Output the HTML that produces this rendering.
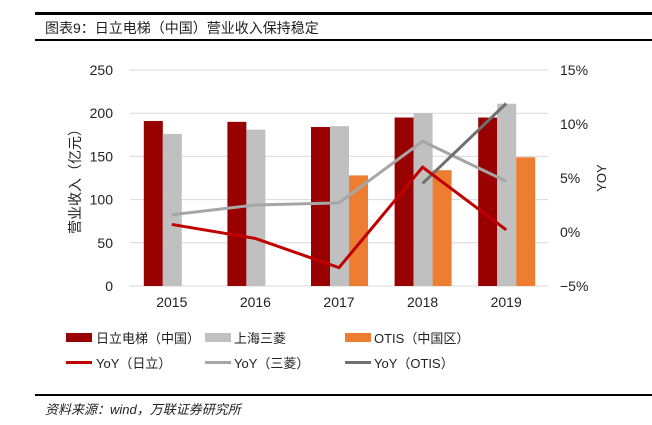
<!DOCTYPE html>
<html><head><meta charset="utf-8"><style>
body{margin:0;background:#fff;font-family:"Liberation Sans","Noto Sans CJK SC",sans-serif;}
svg text{font-family:"Liberation Sans","Noto Sans CJK SC",sans-serif;}
</style></head><body>
<svg width="652" height="420">
<rect x="35" y="12" width="617" height="3" fill="#000"/>
<text x="45" y="33" font-size="14" fill="#222">图表9：日立电梯（中国）营业收入保持稳定</text>
<rect x="35" y="39" width="617" height="2" fill="#000"/>
<g id="grid"></g><g id="bars"></g><g id="lines"></g><g id="axes"></g>
<text transform="translate(80,178) rotate(-90)" text-anchor="middle" font-size="14" fill="#222">营业收入（亿元）</text>
<text transform="translate(606,178) rotate(-90)" text-anchor="middle" font-size="13" fill="#222">YOY</text>
<g font-size="13" fill="#222">
<rect x="66" y="333" width="26" height="9" fill="#990000"/>
<text x="96" y="343">日立电梯（中国）</text>
<rect x="205" y="333" width="26" height="9" fill="#c0c0c0"/>
<text x="234" y="343">上海三菱</text>
<rect x="345" y="333" width="26" height="9" fill="#ed7d31"/>
<text x="374" y="343">OTIS（中国区）</text>
<rect x="66" y="361" width="26" height="3" fill="#c00000"/>
<text x="96" y="368">YoY（日立）</text>
<rect x="205" y="361" width="26" height="3" fill="#a6a6a6"/>
<text x="234" y="368">YoY（三菱）</text>
<rect x="345" y="361" width="26" height="3" fill="#707070"/>
<text x="374" y="368">YoY（OTIS）</text>
</g>
<rect x="35" y="394" width="617" height="2" fill="#000"/>
<text x="45" y="414" font-size="13" font-style="italic" fill="#222">资料来源：wind，万联证券研究所</text>
</svg>
<script>
const categories=["2015","2016","2017","2018","2019"];
const hitachi=[191,190,184,195,195];
const mitsubishi=[176,181,185,200,211];
const otis=[null,null,128,134,149];
const yoyHitachi=[0.7,-0.6,-3.3,6.0,0.2];
const yoyMitsubishi=[1.6,2.5,2.7,8.4,4.7];
const yoyOtis=[null,null,null,4.5,11.9];
const leftTicks=[0,50,100,150,200,250];
const rightTicks=[-5,0,5,10,15];
const NS="http://www.w3.org/2000/svg";
const x0=130,x1=548,yTop=70,yBot=286;
const step=(x1-x0)/categories.length;
const cx=i=>x0+step*(i+0.5);
const yL=v=>yBot-(v/250)*(yBot-yTop);
const yR=v=>yBot-((v+5)/20)*(yBot-yTop);
function mk(p,tag,a){const e=document.createElementNS(NS,tag);for(const k in a)e.setAttribute(k,a[k]);document.getElementById(p).appendChild(e);return e;}
leftTicks.forEach(t=>{
 const l=mk('grid','line',{x1:x0,x2:x1,y1:yL(t),y2:yL(t),stroke:'#d9d9d9','stroke-width':1});
 
 
 const tx=mk('axes','text',{x:113,y:yL(t)+5,'text-anchor':'end','font-size':14,fill:'#222'});tx.textContent=t;
 
 
});
rightTicks.forEach(t=>{
 const tx=mk('axes','text',{x:560,y:yR(t)+5,'font-size':14,fill:'#222'});tx.textContent=(t<0?'\u2212':'')+Math.abs(t)+'%';
 
 
});
categories.forEach((c,i)=>{
 const tx=mk('axes','text',{x:cx(i),y:307,'text-anchor':'middle','font-size':14,fill:'#222'});tx.textContent=c;
 
 
});
const bw=19;
[[hitachi,'#990000',-28,'bar-hitachi'],[mitsubishi,'#c0c0c0',-9,'bar-mitsubishi'],[otis,'#ed7d31',10,'bar-otis']].forEach(([arr,col,off,nm])=>{
 arr.forEach((v,i)=>{if(v==null)return;
  const r=mk('bars','rect',{x:cx(i)+off,y:yL(v),width:bw,height:yBot-yL(v),fill:col});
  
  
 });
});
[[yoyMitsubishi,'#a6a6a6','line-yoy-mitsubishi'],[yoyOtis,'#707070','line-yoy-otis'],[yoyHitachi,'#c00000','line-yoy-hitachi']].forEach(([arr,col,nm])=>{
 const pts=[];arr.forEach((v,i)=>{if(v!=null)pts.push(cx(i)+','+yR(v));});
 const p=mk('lines','polyline',{points:pts.join(' '),fill:'none',stroke:col,'stroke-width':3});
 
 
});
</script>
</body></html>
